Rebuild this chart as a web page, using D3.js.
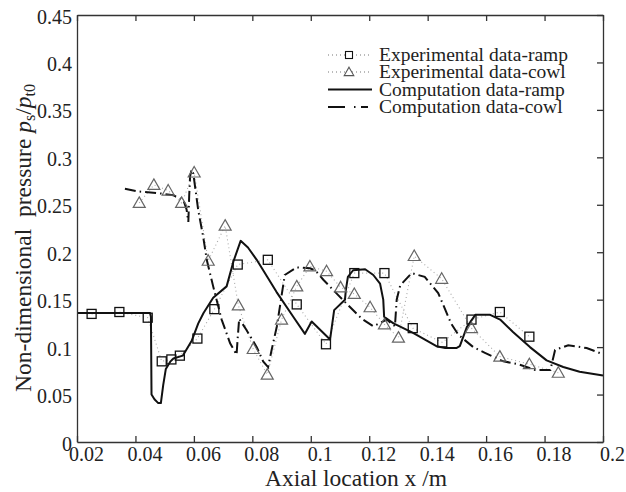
<!DOCTYPE html>
<html>
<head>
<meta charset="utf-8">
<script src="https://cdn.jsdelivr.net/npm/d3@7"></script>
<style>
  body { margin: 0; background: #fff; }
  svg text { font-family: "Liberation Serif", "Times New Roman", serif; fill: #222; }
</style>
</head>
<body>
<svg id="chart"></svg>
<script>
// ticks
const xTicks = [0.02, 0.04, 0.06, 0.08, 0.1, 0.12, 0.14, 0.16, 0.18, 0.2];
const xTickLabels = ["0.02", "0.04", "0.06", "0.08", "0.1", "0.12", "0.14", "0.16", "0.18", "0.2"];
const yTicks = [0, 0.05, 0.1, 0.15, 0.2, 0.25, 0.3, 0.35, 0.4, 0.45];
const yTickLabels = ["0", "0.05", "0.1", "0.15", "0.2", "0.25", "0.3", "0.35", "0.4", "0.45"];

// experimental data - ramp (squares)
const expRampX = [0.025, 0.0345, 0.0442, 0.049, 0.0523, 0.0552, 0.0612, 0.067, 0.075, 0.0853,
  0.0952, 0.1052, 0.1149, 0.1252, 0.1349, 0.145, 0.155, 0.1647, 0.1748];
const expRampY = [0.135, 0.137, 0.131, 0.085, 0.087, 0.091, 0.109, 0.140, 0.187, 0.192,
  0.145, 0.103, 0.178, 0.178, 0.120, 0.105, 0.129, 0.137, 0.111];

// experimental data - cowl (triangles)
const expCowlX = [0.0413, 0.0463, 0.0512, 0.0558, 0.0601, 0.0649, 0.0707, 0.0752, 0.0803, 0.0851,
  0.090, 0.0952, 0.0997, 0.1054, 0.1102, 0.1149, 0.1203, 0.1252, 0.130, 0.1354,
  0.1448, 0.155, 0.1647, 0.1748, 0.1847];
const expCowlY = [0.252, 0.271, 0.265, 0.252, 0.284, 0.191, 0.228, 0.144, 0.098, 0.071,
  0.129, 0.164, 0.185, 0.180, 0.163, 0.156, 0.142, 0.124, 0.110, 0.196,
  0.172, 0.120, 0.090, 0.082, 0.073];

// computation data - ramp
const compRampX = [0.02, 0.045, 0.0453, 0.0455, 0.0465, 0.0478, 0.0487, 0.0495, 0.0504, 0.052,
  0.053, 0.0562, 0.0593, 0.0615, 0.0633, 0.0666, 0.0712, 0.0735, 0.076, 0.0785,
  0.0815, 0.0883, 0.094, 0.098, 0.1003, 0.1066, 0.108, 0.1117, 0.112, 0.1127,
  0.1145, 0.1186, 0.1214, 0.1237, 0.1248, 0.1251, 0.1283, 0.135, 0.143, 0.146,
  0.1498, 0.151, 0.1534, 0.1563, 0.1614, 0.1648, 0.1692, 0.175, 0.1807, 0.1864,
  0.192, 0.2];
const compRampY = [0.136, 0.136, 0.132, 0.050, 0.045, 0.041, 0.041, 0.060, 0.077, 0.085,
  0.088, 0.091, 0.107, 0.125, 0.136, 0.152, 0.164, 0.190, 0.212, 0.205,
  0.192, 0.158, 0.132, 0.114, 0.127, 0.108, 0.139, 0.150, 0.160, 0.174,
  0.181, 0.182, 0.176, 0.167, 0.150, 0.132, 0.125, 0.115, 0.101, 0.099,
  0.099, 0.101, 0.121, 0.134, 0.134, 0.129, 0.116, 0.100, 0.086, 0.079,
  0.074, 0.070];

// computation data - cowl
const compCowlX = [0.0364, 0.041, 0.0484, 0.053, 0.0564, 0.0575, 0.0581, 0.0584, 0.0587, 0.0592,
  0.0598, 0.0615, 0.0632, 0.0644, 0.0666, 0.0695, 0.0724, 0.0746, 0.075, 0.0755,
  0.078, 0.0815, 0.0837, 0.0854, 0.0866, 0.0884, 0.0911, 0.0952, 0.0997, 0.1015,
  0.1043, 0.1093, 0.1122, 0.1174, 0.1214, 0.126, 0.1288, 0.1294, 0.1306, 0.1345,
  0.139, 0.1436, 0.1454, 0.148, 0.1505, 0.1556, 0.1596, 0.1659, 0.171, 0.1767,
  0.182, 0.1836, 0.1881, 0.1944, 0.1996];
const compCowlY = [0.267, 0.264, 0.262, 0.260, 0.255, 0.245, 0.232, 0.260, 0.280, 0.287,
  0.283, 0.244, 0.216, 0.192, 0.164, 0.129, 0.104, 0.092, 0.110, 0.130,
  0.118, 0.100, 0.085, 0.079, 0.097, 0.122, 0.176, 0.184, 0.183, 0.181,
  0.171, 0.155, 0.146, 0.130, 0.122, 0.129, 0.122, 0.150, 0.165, 0.178,
  0.174, 0.157, 0.144, 0.125, 0.113, 0.100, 0.094, 0.085, 0.082, 0.076,
  0.076, 0.097, 0.102, 0.099, 0.093];

const legendLabels = ["Experimental data-ramp", "Experimental data-cowl", "Computation data-ramp", "Computation data-cowl"];

const width = 626, height = 492;
const margin = { top: 15, right: 23, bottom: 50, left: 77 };
const innerW = width - margin.left - margin.right;
const innerH = height - margin.top - margin.bottom;

const svg = d3.select("#chart").attr("width", width).attr("height", height);
const g = svg.append("g").attr("transform", `translate(${margin.left},${margin.top})`);

const x = d3.scaleLinear().domain([0.02, 0.2]).range([0, innerW]);
const y = d3.scaleLinear().domain([0, 0.45]).range([innerH, 0]);

const zip = (xs, ys) => xs.map((v, i) => [v, ys[i]]);
const line = d3.line().x(d => x(d[0])).y(d => y(d[1]));

// experimental dotted connectors
[zip(expRampX, expRampY), zip(expCowlX, expCowlY)].forEach(pts => {
  g.append("path")
    .datum(pts)
    .attr("d", line)
    .attr("fill", "none")
    .attr("stroke", "#aaa")
    .attr("stroke-width", 1.1)
    .attr("stroke-dasharray", "1,3");
});

// computation lines
g.append("path")
  .datum(zip(compRampX, compRampY))
  .attr("d", line)
  .attr("fill", "none")
  .attr("stroke", "#111")
  .attr("stroke-width", 2)
  .attr("stroke-linejoin", "round");

g.append("path")
  .datum(zip(compCowlX, compCowlY))
  .attr("d", line)
  .attr("fill", "none")
  .attr("stroke", "#111")
  .attr("stroke-width", 2)
  .attr("stroke-dasharray", "11,4,1.5,4");

// markers
const tri = s => `M0,${-s * 0.6}L${s * 0.6},${s * 0.45}L${-s * 0.6},${s * 0.45}Z`;

g.selectAll(".sq")
  .data(zip(expRampX, expRampY))
  .join("rect")
  .attr("class", "sq")
  .attr("x", d => x(d[0]) - 4.5)
  .attr("y", d => y(d[1]) - 4.5)
  .attr("width", 9)
  .attr("height", 9)
  .attr("fill", "none")
  .attr("stroke", "#111")
  .attr("stroke-width", 1.3);

g.selectAll(".tri")
  .data(zip(expCowlX, expCowlY))
  .join("path")
  .attr("class", "tri")
  .attr("transform", d => `translate(${x(d[0])},${y(d[1])})`)
  .attr("d", tri(10))
  .attr("fill", "none")
  .attr("stroke", "#666")
  .attr("stroke-width", 1.2);

// axes
const fontSize = 20;
const axisColor = "#333";

const xAxis = g.append("g")
  .attr("transform", `translate(0,${innerH})`)
  .call(d3.axisBottom(x).tickValues(xTicks).tickFormat((d, i) => xTickLabels[i])
    .tickSizeInner(-6).tickSizeOuter(0).tickPadding(5));
xAxis.selectAll("text").attr("dx", 9).style("font-size", fontSize + "px");

const yAxis = g.append("g")
  .call(d3.axisLeft(y).tickValues(yTicks).tickFormat((d, i) => yTickLabels[i])
    .tickSize(0).tickPadding(5));
yAxis.selectAll("text").attr("dy", "0.4em").style("font-size", fontSize + "px");

g.append("g")
  .call(d3.axisTop(x).tickValues(xTicks).tickFormat("").tickSizeInner(-6).tickSizeOuter(0));

g.append("g")
  .attr("transform", `translate(${innerW},0)`)
  .call(d3.axisRight(y).tickValues(yTicks).tickFormat("").tickSizeInner(-6).tickSizeOuter(0));

g.selectAll(".domain, .tick line").attr("stroke", axisColor).attr("stroke-width", 1.3);
g.selectAll(".tick text").attr("fill", "#222").style("font-family", "'Liberation Serif', 'Times New Roman', serif");

// axis titles
svg.append("text")
  .attr("x", 356)
  .attr("y", 486)
  .attr("text-anchor", "middle")
  .style("font-size", "23.5px")
  .text("Axial location x /m");

const yt = svg.append("text")
  .attr("transform", "translate(31,238) rotate(-90)")
  .attr("text-anchor", "middle")
  .style("font-size", "23.5px")
  .attr("xml:space", "preserve");
yt.append("tspan").text("Non-dimensional  pressure ");
yt.append("tspan").style("font-style", "italic").text("p");
yt.append("tspan").attr("dy", 4).style("font-size", "16px").text("s");
yt.append("tspan").attr("dy", -4).text("/");
yt.append("tspan").style("font-style", "italic").text("p");
yt.append("tspan").attr("dy", 4).style("font-size", "16px").text("t0");

// legend
const legend = svg.append("g");
const rowsY = [55, 72, 89.5, 107];
const lx0 = 328, lx1 = 372, lmid = 349;

legendLabels.forEach((lab, i) => {
  legend.append("text")
    .attr("x", 379)
    .attr("y", rowsY[i] + 6)
    .style("font-size", "19.5px")
    .text(lab);
});

[0, 1].forEach(i => {
  legend.append("line")
    .attr("x1", lx0).attr("x2", lx1)
    .attr("y1", rowsY[i]).attr("y2", rowsY[i])
    .attr("stroke", "#777").attr("stroke-width", 1.1)
    .attr("stroke-dasharray", "1,3");
});
legend.append("rect")
  .attr("x", lmid - 3.5).attr("y", rowsY[0] - 3.5)
  .attr("width", 7).attr("height", 7)
  .attr("fill", "#fff").attr("stroke", "#111").attr("stroke-width", 1.1);
legend.append("path")
  .attr("transform", `translate(${lmid},${rowsY[1]})`)
  .attr("d", tri(8))
  .attr("fill", "#fff").attr("stroke", "#555").attr("stroke-width", 1.1);

legend.append("line")
  .attr("x1", lx0).attr("x2", lx1)
  .attr("y1", rowsY[2]).attr("y2", rowsY[2])
  .attr("stroke", "#111").attr("stroke-width", 2);

legend.append("line")
  .attr("x1", lx0).attr("x2", lx1)
  .attr("y1", rowsY[3]).attr("y2", rowsY[3])
  .attr("stroke", "#111").attr("stroke-width", 2)
  .attr("stroke-dasharray", "17,9,1.5,5.5,7");
</script>
</body>
</html>
